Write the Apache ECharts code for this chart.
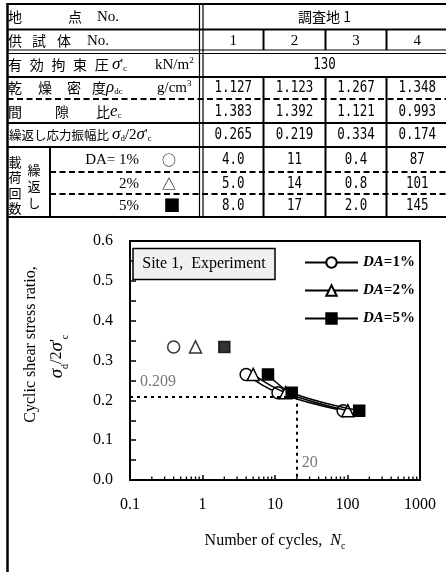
<!DOCTYPE html>
<html><head><meta charset="utf-8">
<script src="https://cdn.jsdelivr.net/npm/echarts@6/dist/echarts.min.js"></script>
<style>html,body{margin:0;padding:0;background:#fff}#c{width:446px;height:572px}</style>
</head><body><div id="c"></div>
<script>
// ---------- data ----------
const siteName = '調査地 1';
const specimenNo = ['1', '2', '3', '4'];
const confiningPressure = '130';
const dryDensity = [1.127, 1.123, 1.267, 1.348];
const voidRatio = [1.383, 1.392, 1.121, 0.993];
const stressRatio = [0.265, 0.219, 0.334, 0.174];
const cyclesDA1 = [4.0, 11, 0.4, 87];
const cyclesDA2 = [5.0, 14, 0.8, 101];
const cyclesDA5 = [8.0, 17, 2.0, 145];
const daNames = ['DA=1%', 'DA=2%', 'DA=5%'];
const refRatio = 0.209;
const refCycles = 20;
const xTickValues = [0.1, 1, 10, 100, 1000];
const yTickLabels = ['0.0', '0.1', '0.2', '0.3', '0.4', '0.5', '0.6'];

// ---------- styling ----------
const SERIF = '"Liberation Serif","Times New Roman",Times,serif';
const JP = '"Noto Sans CJK JP","Noto Sans CJK SC",sans-serif';
const MONO = '"DejaVu Sans Mono",monospace';

const g = [];
function hline(y, x1, x2, w, dash) {
  g.push({type: 'line', silent: true, shape: {x1: x1, y1: y, x2: x2, y2: y},
    style: {stroke: '#000', lineWidth: w, lineDash: dash || null}});
}
function vline(x, y1, y2, w) {
  g.push({type: 'line', silent: true, shape: {x1: x, y1: y1, x2: x, y2: y2},
    style: {stroke: '#000', lineWidth: w}});
}
function txt(x, y, text, font, align, rich, extra) {
  const st = {text: text, x: 0, y: 0, font: font, fill: '#000',
    align: align || 'left', verticalAlign: 'middle',
    textAlign: align || 'left', textVerticalAlign: 'middle'};
  if (rich) st.rich = rich;
  g.push(Object.assign({type: 'text', silent: true, x: x, y: y, style: st}, extra || {}));
}

// table geometry
const L = 7.5, R = 448, LAB = 199.5;
const colEdges = [203, 263.5, 325.5, 386.5, 448];
const colC = [0, 1, 2, 3].map(i => (colEdges[i] + colEdges[i + 1]) / 2);
const rowC = [17, 41, 65, 88, 112, 135, 160, 184, 206];
const DASH = [6, 3.5];

hline(4, L, R, 2);
hline(29.5, L, R, 2);
hline(50, L, R, 1.2);
hline(53.5, L, R, 1.2);
hline(77, L, R, 2);
hline(99, L, R, 2, DASH);
hline(123, L, R, 2);
hline(147, L, R, 2);
hline(172, 50, R, 2, DASH);
hline(194, 50, R, 2, DASH);
hline(217, L, R, 2);
vline(L, 3, 572, 2.5);
vline(LAB, 4, 217, 1.2);
vline(LAB + 3.5, 4, 217, 1.2);
[colEdges[1], colEdges[2], colEdges[3]].forEach(x => {
  vline(x, 29.5, 50, 2);
  vline(x, 77, 217, 2);
});
vline(50, 147, 217, 2);

const fJP = '14px ' + JP;
const fSerif = '15px ' + SERIF;
const richSym = {
  s: {fontFamily: SERIF, fontStyle: 'italic', fontSize: 17},
  p: {fontFamily: SERIF, fontSize: 14},
  sb: {fontFamily: SERIF, fontSize: 9, verticalAlign: 'bottom', lineHeight: 16},
  sp: {fontFamily: SERIF, fontSize: 9, verticalAlign: 'top', lineHeight: 18},
  n: {fontFamily: SERIF, fontSize: 15}
};
// row 1
txt(8, rowC[0], '地', fJP); txt(68, rowC[0], '点', fJP); txt(97, rowC[0], 'No.', fSerif);
// row 2
txt(8, rowC[1], '供', fJP); txt(32, rowC[1], '試', fJP); txt(57, rowC[1], '体', fJP); txt(87, rowC[1], 'No.', fSerif);
// row 3
['有', '効', '拘', '束', '圧'].forEach((c, i) => txt(8 + i * 21.7, rowC[2], c, fJP));
txt(112, rowC[2], "{s|σ}{p|'}{sb|c}", fSerif, 'left', richSym);
txt(155, rowC[2], '{n|kN/m}{sp|2}', fSerif, 'left', richSym);
// row 4
txt(8, rowC[3], '乾', fJP); txt(38, rowC[3], '燥', fJP); txt(67, rowC[3], '密', fJP); txt(92, rowC[3], '度', fJP);
txt(106, rowC[3], '{s|ρ}{sb|dc}', fSerif, 'left', richSym);
txt(157, rowC[3], '{n|g/cm}{sp|3}', fSerif, 'left', richSym);
// row 5
txt(8, rowC[4], '間', fJP); txt(55, rowC[4], '隙', fJP); txt(96, rowC[4], '比', fJP);
txt(110, rowC[4], '{s|e}{sb|c}', fSerif, 'left', richSym);
// row 6
txt(9, rowC[5], '繰返し応力振幅比', '12.5px ' + JP);
txt(112, rowC[5], "{s|σ}{sb|d}{n|/2}{s|σ}{p|'}{sb|c}", fSerif, 'left', richSym);
// rows 7-9 label column
['載', '荷', '回', '数'].forEach((c, i) => txt(15, 162 + i * 15.5, c, '13px ' + JP, 'center'));
['繰', '返', 'し'].forEach((c, i) => txt(34, 170 + i * 16.5, c, '13px ' + JP, 'center'));
txt(139, rowC[6], 'DA= 1%', fSerif, 'right');
txt(139, rowC[7], '2%', fSerif, 'right');
txt(139, rowC[8], '5%', fSerif, 'right');
txt(169, rowC[6], '○', '14px ' + JP, 'center');
txt(169, rowC[7], '△', '14px ' + JP, 'center');
txt(172, rowC[8], '■', '17px ' + JP, 'center');

// data cells
const fNum = '12.5px ' + MONO;
const numScale = {scaleY: 1.25};
const fmtN = v => (v < 10 ? v.toFixed(1) : String(v));
txt((colEdges[0] + colEdges[4]) / 2 - 1, rowC[0], siteName, '14px ' + JP, 'center');
specimenNo.forEach((s, i) => txt(colC[i], rowC[1], s, fSerif, 'center'));
txt((colEdges[0] + colEdges[4]) / 2 - 1, rowC[2], confiningPressure, fNum, 'center', null, numScale);
dryDensity.forEach((v, i) => txt(colC[i], rowC[3], v.toFixed(3), fNum, 'center', null, numScale));
voidRatio.forEach((v, i) => txt(colC[i], rowC[4], v.toFixed(3), fNum, 'center', null, numScale));
stressRatio.forEach((v, i) => txt(colC[i], rowC[5], v.toFixed(3), fNum, 'center', null, numScale));
cyclesDA1.forEach((v, i) => txt(colC[i], rowC[6], fmtN(v), fNum, 'center', null, numScale));
cyclesDA2.forEach((v, i) => txt(colC[i], rowC[7], fmtN(v), fNum, 'center', null, numScale));
cyclesDA5.forEach((v, i) => txt(colC[i], rowC[8], fmtN(v), fNum, 'center', null, numScale));

// chart title box
g.push({type: 'rect', silent: true, shape: {x: 133, y: 248.5, width: 142, height: 31},
  style: {fill: '#f0f0f0', stroke: '#000', lineWidth: 1.5}, z: 10});
g.push({type: 'text', silent: true, x: 204, y: 264, z: 11,
  style: {text: 'Site 1,  Experiment', font: '16px ' + SERIF, fill: '#000',
    align: 'center', verticalAlign: 'middle', textAlign: 'center', textVerticalAlign: 'middle'}});

// ---------- series ----------
const levels = [
  {name: daNames[0], cyc: cyclesDA1, symbol: 'circle', fill: '#fff', size: 12},
  {name: daNames[1], cyc: cyclesDA2, symbol: 'triangle', fill: '#fff', size: 12},
  {name: daNames[2], cyc: cyclesDA5, symbol: 'rect', fill: '#000', size: 11}
];
const series = [];
levels.forEach((lv, k) => {
  const pts = lv.cyc.map((c, i) => [c, stressRatio[i]]);
  const curve = pts.filter(p => p[1] < 0.3).sort((a, b) => a[0] - b[0]);
  const isolated = pts.filter(p => p[1] >= 0.3);
  const ist = {color: lv.fill, borderColor: '#000', borderWidth: 1.5};
  series.push({
    name: lv.name, type: 'line', data: curve, smooth: 0.4,
    symbol: lv.symbol, symbolSize: lv.size, showSymbol: true,
    lineStyle: {color: '#000', width: 1.5}, itemStyle: ist, z: 3 + k,
    emphasis: {disabled: true}
  });
  series.push({
    name: lv.name, type: 'scatter', data: isolated,
    symbol: lv.symbol, symbolSize: lv.size, itemStyle: ist, z: 3 + k,
    emphasis: {disabled: true}
  });
});
// reference lines
series.push({
  type: 'line', data: [], silent: true,
  markLine: {
    silent: true, symbol: 'none', animation: false,
    lineStyle: {color: '#000', width: 2, type: [3, 4]},
    label: {show: false},
    data: [
      [{coord: [xTickValues[0], refRatio]}, {coord: [refCycles, refRatio]}],
      [{coord: [refCycles, refRatio]}, {coord: [refCycles, 0]}]
    ]
  }
});
// annotation labels
series.push({
  type: 'scatter', symbolSize: 0, silent: true, z: 2,
  data: [
    {value: [xTickValues[0], refRatio], label: {show: true, formatter: String(refRatio), position: 'right', distance: 10, offset: [0, -15]}},
    {value: [refCycles, 0], label: {show: true, formatter: String(refCycles), position: 'right', distance: 5, offset: [0, -17]}}
  ],
  label: {color: '#555', fontFamily: SERIF, fontSize: 16}
});
// log minor ticks
const minorX = [];
[0.1, 1, 10, 100].forEach(d => { for (let k = 2; k <= 9; k++) minorX.push([+(d * k).toPrecision(3), 0]); });
series.push({
  type: 'custom', silent: true, clip: false, data: minorX, z: 5,
  renderItem: function (params, api) {
    const p = api.coord([api.value(0), 0]);
    return {type: 'line', shape: {x1: p[0], y1: p[1], x2: p[0], y2: p[1] - 3.5},
      style: {stroke: '#000', lineWidth: 1.3}};
  }
});

const chart = echarts.init(document.getElementById('c'), null, {renderer: 'canvas'});
chart.setOption({
  backgroundColor: '#fff',
  animation: false,
  textStyle: {fontFamily: SERIF},
  grid: {left: 130, top: 241, width: 290, height: 239, show: true, borderColor: '#000', borderWidth: 2, backgroundColor: 'transparent'},
  legend: {
    data: daNames, orient: 'vertical', left: 299, top: 250, itemWidth: 53, itemHeight: 13, itemGap: 13,
    selectedMode: false,
    formatter: n => '{i|DA}{n|' + n.slice(2) + '}',
    textStyle: {
      fontFamily: SERIF, fontWeight: 'bold', fontSize: 15, color: '#000',
      rich: {i: {fontFamily: SERIF, fontStyle: 'italic', fontWeight: 'bold', fontSize: 15},
             n: {fontFamily: SERIF, fontWeight: 'bold', fontSize: 15}}
    }
  },
  xAxis: {
    type: 'log', logBase: 10, min: xTickValues[0], max: xTickValues[xTickValues.length - 1],
    axisLine: {lineStyle: {color: '#000', width: 2}},
    axisTick: {inside: true, length: 5, lineStyle: {color: '#000', width: 1.5}},
    axisLabel: {color: '#000', fontFamily: SERIF, fontSize: 16, margin: 17,
      formatter: v => String(+(+v).toPrecision(3))},
    splitLine: {show: false},
    name: 'Number of cycles,  {i|N}{sb|c}', nameLocation: 'middle', nameGap: 51,
    nameTextStyle: {color: '#000', fontFamily: SERIF, fontSize: 16,
      rich: {i: {fontFamily: SERIF, fontStyle: 'italic', fontSize: 16},
             sb: {fontFamily: SERIF, fontSize: 10, verticalAlign: 'bottom', lineHeight: 20}}}
  },
  yAxis: {
    type: 'value', min: 0, max: 0.6, interval: 0.1,
    axisLine: {show: true, lineStyle: {color: '#000', width: 2}},
    axisTick: {show: true, inside: true, length: 6, lineStyle: {color: '#000', width: 1.5}},
    minorTick: {show: true, splitNumber: 2, length: 6, lineStyle: {color: '#000', width: 1.5}},
    axisLabel: {color: '#000', fontFamily: SERIF, fontSize: 16, margin: 17,
      formatter: v => yTickLabels[Math.round(v * 10)]},
    splitLine: {show: false},
    name: "{a|Cyclic shear stress ratio,}\n{s0|σ}{sb|d}{n|/2}{s|σ}{n|'}{sb|c}",
    nameLocation: 'middle', nameRotate: 90, nameGap: 60,
    nameTextStyle: {color: '#000', fontFamily: SERIF, fontSize: 16, lineHeight: 26,
      rich: {a: {fontFamily: SERIF, fontSize: 16, lineHeight: 26, padding: [0, 0, 0, 32]},
             s0: {fontFamily: SERIF, fontStyle: 'italic', fontSize: 19, lineHeight: 26, padding: [0, 0, 0, 8]},
             s: {fontFamily: SERIF, fontStyle: 'italic', fontSize: 19, lineHeight: 26},
             n: {fontFamily: SERIF, fontSize: 16, lineHeight: 26},
             sb: {fontFamily: SERIF, fontSize: 10, verticalAlign: 'bottom', lineHeight: 22}}}
  },
  graphic: {elements: g},
  series: series
});
</script></body></html>
